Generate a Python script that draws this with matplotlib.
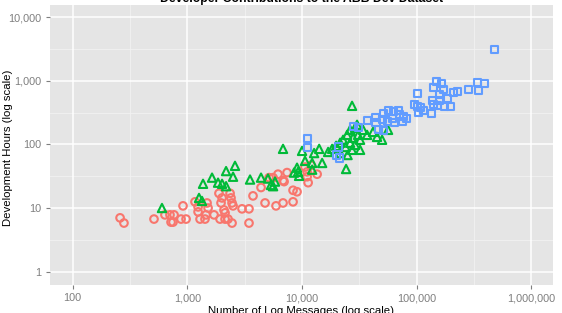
import matplotlib
matplotlib.use("Agg")
import matplotlib.pyplot as plt
import numpy as np

plt.rcParams['font.family'] = ['Liberation Sans', 'DejaVu Sans']

# ---- data ----
red_x = [259, 280, 512, 638, 706, 766, 721, 750, 881, 975, 917, 1167, 1241, 1241, 1291, 1426,
         1486, 1517, 1455, 1710, 1888, 2009, 1968, 2089, 2133, 1928, 2133, 2265, 2360, 2404,
         2455, 2506, 2455, 3000, 3451, 3451, 3741, 4395, 4764, 5164, 5598, 5940, 6837, 6180,
         6983, 7413, 8360, 8360, 9057, 11090, 11320, 10640, 11090, 13560, 6837, 12000]
red_y = [7.0, 5.8, 6.7, 7.8, 7.8, 7.8, 6.0, 6.0, 6.7, 6.7, 10.8, 12.5, 10.4, 8.7, 6.7, 6.7,
         12.0, 10.0, 7.8, 7.8, 17, 14.4, 12.0, 9.3, 8.4, 6.7, 6.7, 6.7, 17, 14.4,
         12.0, 10.8, 5.8, 9.7, 9.7, 5.8, 15.5, 21, 12.0, 30, 30, 10.8, 12.0, 34,
         26, 36, 12.5, 19, 18, 31, 25, 44, 37, 34, 27, 47]

green_x = [601, 1265, 1343, 1371, 1643, 1854, 2009, 2178, 2178, 2506, 2606, 3524, 4395, 5058,
           5370, 5598, 5821, 6837, 8530, 9247, 9437, 9057, 10020, 10640, 12270, 12270, 12770,
           14130, 15000, 16920, 18330, 21530, 24270, 27360, 22860, 24000, 24770, 25000, 26300,
           26300, 27360, 27920, 29040, 29040, 30250, 30900, 32140, 32140, 34120, 36980, 41690,
           45180, 50000, 56370, 21530, 19860]
green_y = [10.0, 14.4, 12.9, 24, 30, 25, 24, 22, 38, 31, 46, 28, 30, 29,
           23, 22, 26, 85, 36, 37, 32, 43, 79, 55, 51, 40, 73,
           85, 51, 76, 85, 73, 41, 403, 118, 91, 141, 68, 169,
           106, 82, 127, 182, 98, 203, 141, 82, 118, 169, 141, 157,
           131, 118, 169, 106, 95]

blue_x = [11090, 11090, 20650, 19860, 21090, 27920, 30900, 36980, 43450, 44260, 51050, 56370,
          62370, 69020, 50000, 55340, 61090, 70470, 76380, 81100, 63680, 74820, 46130, 51050,
          95280, 101200, 107400, 101200, 103300, 114000, 134000, 139300, 148200, 163700,
          139300, 157400, 170200, 136800, 157400, 184500, 151000, 173800, 195900, 208000,
          225400, 281200, 337300, 388200, 344400, 475300]
blue_y = [122, 88, 91, 68, 61, 188, 182, 234, 261, 218, 302, 336,
          324, 336, 243, 226, 252, 291, 271, 252, 218, 226, 169, 163,
          418, 389, 375, 622, 313, 336, 302, 418, 961, 893,
          773, 600, 719, 483, 483, 519, 403, 389, 389, 646,
          668, 719, 927, 893, 693, 3062]

x_ticks = [100, 1000, 10000, 100000, 1000000]
x_labels = ["100", "1,000", "10,000", "100,000", "1,000,000"]
y_ticks = [1, 10, 100, 1000, 10000]
y_labels = ["1", "10", "100", "1,000", "10,000"]

title = "Developer Contributions to the ABB Dev Dataset"
xlabel = "Number of Log Messages (log scale)"
ylabel = "Development Hours (log scale)"

# ---- figure ----
W, H = 562, 313
fig = plt.figure(figsize=(W / 100, H / 100), dpi=100)
ax = fig.add_axes([50 / W, (313 - 285) / H, (553 - 50) / W, (285 - 5) / H])
ax.set_facecolor("#E5E5E5")
ax.set_xscale("log")
ax.set_yscale("log")
ax.set_xlim(10 ** 1.802, 10 ** 6.19)
ax.set_ylim(10 ** -0.21, 10 ** 4.19)

minor_x = [10 ** (k + 0.5) for k in range(1, 7)]
minor_y = [10 ** (k + 0.5) for k in range(-1, 5)]
for v in minor_x:
    ax.axvline(v, color="#F2F2F2", lw=0.6, zorder=0.5)
for v in minor_y:
    ax.axhline(v, color="#F2F2F2", lw=0.6, zorder=0.5)
for v in x_ticks:
    ax.axvline(v, color="white", lw=1.1, zorder=0.6)
for v in y_ticks:
    ax.axhline(v, color="white", lw=1.1, zorder=0.6)

ax.set_xticks(x_ticks)
ax.set_xticklabels(x_labels)
ax.set_yticks(y_ticks)
ax.set_yticklabels(y_labels)
ax.minorticks_off()
ax.tick_params(axis="both", which="major", length=3, width=0.8, color="#7F7F7F",
               labelcolor="#7F7F7F", labelsize=7.8, pad=3)
for s in ax.spines.values():
    s.set_visible(False)

ms = 30
lw = 1.5
ax.scatter(red_x, red_y, s=ms, marker="o", facecolors="none", edgecolors="#F8766D",
           linewidths=lw, zorder=3)
ax.scatter(green_x, green_y, s=ms + 6, marker="^", facecolors="none", edgecolors="#00BA38",
           linewidths=lw, zorder=3)
ax.scatter(blue_x, blue_y, s=ms - 4, marker="s", facecolors="none", edgecolors="#619CFF",
           linewidths=lw, zorder=3)

ax.set_xlabel(xlabel, fontsize=8.2, color="black", labelpad=2)
fig.text(8 / W, 1 - 148 / H, ylabel, rotation=90, ha="center", va="center",
         fontsize=8.2, color="black")

fig.text(302 / W, 1 - 2 / H, title, ha="center", va="baseline", fontsize=8.8,
         fontweight="bold", color="black")

fig.savefig("out.png", dpi=100)
